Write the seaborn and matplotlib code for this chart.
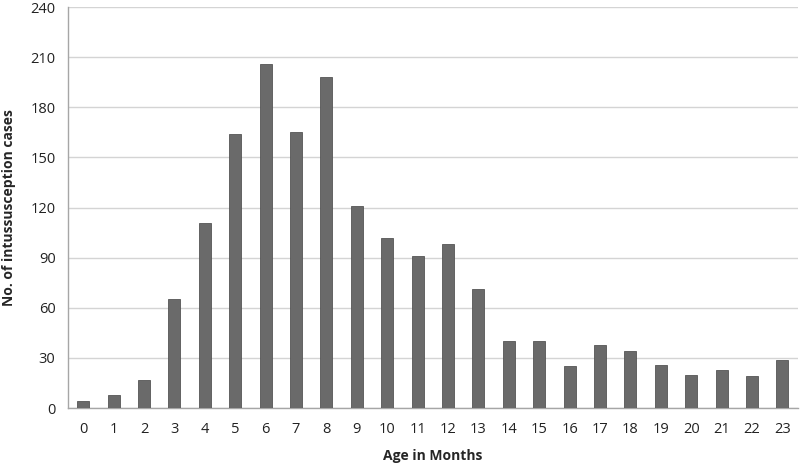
import matplotlib
matplotlib.use("Agg")
from matplotlib import pyplot as plt
from matplotlib.ticker import FixedLocator
import seaborn as sb
import pandas as pd

# datos
ages = [str(i) for i in range(24)]
cases = [4, 8, 17, 65, 111, 164, 206, 165, 198, 121, 102, 91, 98, 71,
         40, 40, 25, 38, 34, 26, 20, 23, 19, 29]
yticks = [0, 30, 60, 90, 120, 150, 180, 210, 240]

df = pd.DataFrame({"Age": ages, "Cases": cases})

sb.set_style("white")
plt.rcParams["font.family"] = ["Open Sans", "DejaVu Sans"]

fig, ax = plt.subplots(figsize=(8, 4.68), dpi=100)
fig.subplots_adjust(left=0.085, right=0.997, bottom=0.128, top=0.985)

sb.barplot(data=df, x="Age", y="Cases", color="#6a6a6a", width=0.4,
           saturation=1, edgecolor="#555555", linewidth=0.6, ax=ax, zorder=3)

ax.set_ylim(0, 240)
ax.set_xlim(-0.5, 23.5)
ax.set_yticks(yticks)
ax.yaxis.grid(True, color="#d4d4d4", linewidth=1, zorder=0)
ax.set_axisbelow(True)

for s in ["top", "right"]:
    ax.spines[s].set_visible(False)
for s in ["left", "bottom"]:
    ax.spines[s].set_color("#a6a6a6")
    ax.spines[s].set_linewidth(1)

ax.xaxis.set_minor_locator(FixedLocator([i - 0.5 for i in range(25)]))
ax.tick_params(axis="x", which="major", length=0, pad=10, labelsize=10.5, colors="#222222")
ax.tick_params(axis="x", which="minor", length=5, color="#a6a6a6", width=1)
ax.tick_params(axis="y", length=5, color="#a6a6a6", width=1, pad=4, labelsize=10.5, colors="#222222")

ax.set_xlabel("Age in Months", fontsize=10, fontweight="bold", labelpad=9)
ax.set_ylabel("No. of intussusception cases", fontsize=10, fontweight="bold", labelpad=10)

plt.savefig("out.png", dpi=100)
